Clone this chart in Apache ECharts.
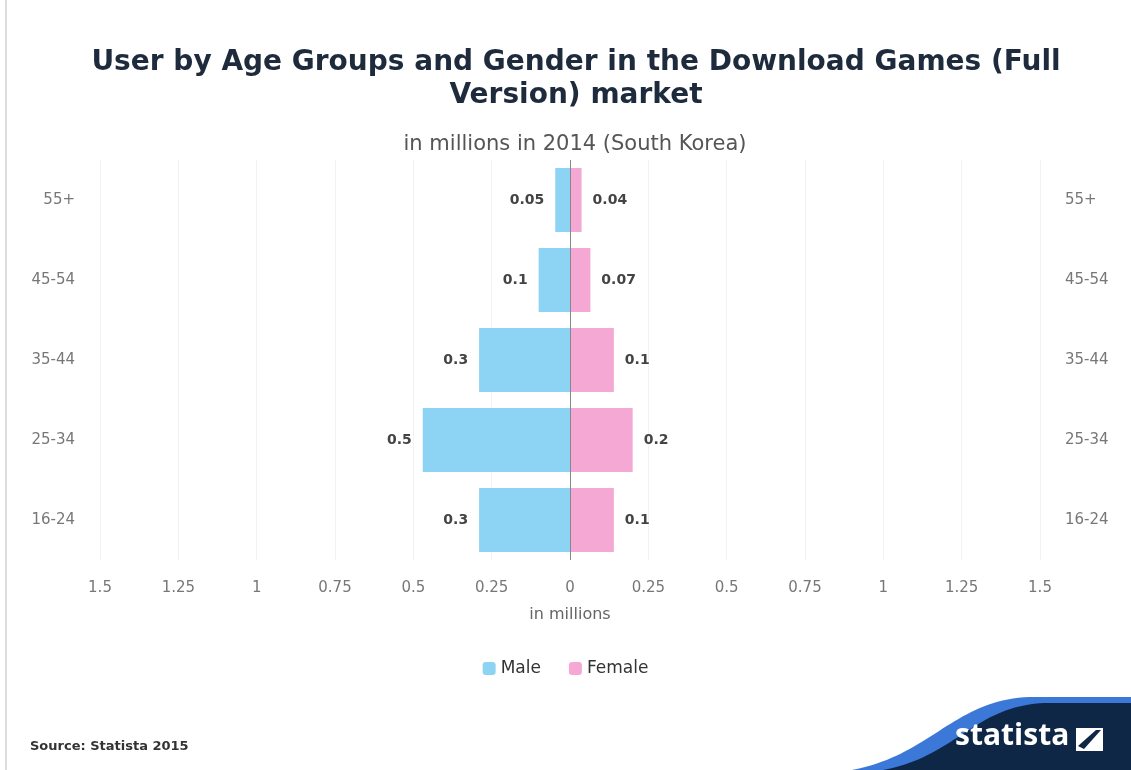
<!DOCTYPE html>
<html><head><meta charset="utf-8">
<script src="https://cdn.jsdelivr.net/npm/echarts@6/dist/echarts.min.js"></script>
<style>html,body{margin:0;padding:0;background:#fff}#c{width:1131px;height:770px}</style>
</head><body><div id="c"></div>
<script>
const categories = ['16-24', '25-34', '35-44', '45-54', '55+'];
const maleValues = [0.29, 0.47, 0.29, 0.1, 0.047];
const femaleValues = [0.14, 0.2, 0.14, 0.065, 0.037];

function fmtVal(v) {
  v = Math.abs(v);
  return v < 0.095 ? v.toFixed(2) : String(Math.round(v * 10) / 10);
}
// decorative wave (logo background) as polygon points along a cubic bezier
function wave(x0, y0, c1x, c1y, c2x, c2y, x1, y1) {
  const pts = [];
  for (let i = 0; i <= 40; i++) {
    const t = i / 40, u = 1 - t;
    pts.push([u*u*u*x0 + 3*u*u*t*c1x + 3*u*t*t*c2x + t*t*t*x1,
              u*u*u*y0 + 3*u*u*t*c1y + 3*u*t*t*c2y + t*t*t*y1]);
  }
  pts.push([1131, y1], [1131, 770]);
  return pts;
}
const FONT = 'DejaVu Sans';
const chart = echarts.init(document.getElementById('c'));
chart.setOption({
  animation: false,
  backgroundColor: '#fff',
  title: [{
    text: 'User by Age Groups and Gender in the Download Games (Full\nVersion) market',
    left: 571, top: 41, textAlign: 'center',
    textStyle: {fontFamily: FONT, fontWeight: 'bold', fontSize: 28, color: '#1d2b3d', lineHeight: 33}
  }, {
    text: 'in millions in 2014 (South Korea)',
    left: 570, top: 129, textAlign: 'center',
    textStyle: {fontFamily: FONT, fontWeight: 'normal', fontSize: 21, color: '#555'}
  }],
  legend: {
    data: ['Male', 'Female'], top: 655, left: 'center',
    itemWidth: 13, itemHeight: 13, itemGap: 28,
    icon: 'roundRect',
    textStyle: {fontFamily: FONT, fontSize: 17, color: '#333'}
  },
  grid: {left: 100, right: 91, top: 160, bottom: 210},
  xAxis: {
    type: 'value', min: -1.5, max: 1.5, interval: 0.25,
    name: 'in millions', nameLocation: 'middle', nameGap: 47,
    nameTextStyle: {fontFamily: FONT, fontSize: 16, color: '#666'},
    axisLine: {show: false}, axisTick: {show: false},
    axisLabel: {fontFamily: FONT, fontSize: 15, color: '#777', margin: 21,
      formatter: v => String(Math.abs(Math.round(v * 100) / 100))},
    splitLine: {show: true, lineStyle: {color: '#f2f2f2', width: 1}}
  },
  yAxis: [{
    type: 'category', data: categories, position: 'left',
    axisLine: {show: false}, axisTick: {show: false},
    axisLabel: {fontFamily: FONT, fontSize: 15, color: '#777', margin: 25}
  }, {
    type: 'category', data: categories, position: 'right',
    axisLine: {show: false}, axisTick: {show: false},
    axisLabel: {fontFamily: FONT, fontSize: 15, color: '#777', margin: 25, align: 'left'}
  }],
  series: [{
    name: 'Male', type: 'bar', stack: 'p', barWidth: '80%',
    data: maleValues.map(v => -v),
    itemStyle: {color: '#8dd3f4'},
    label: {show: true, position: 'left', distance: 11, formatter: p => fmtVal(p.value),
      fontFamily: FONT, fontWeight: 'bold', fontSize: 14, color: '#444'},
    markLine: {silent: true, symbol: 'none', label: {show: false},
      lineStyle: {color: '#888', width: 1, type: 'solid'}, data: [{xAxis: 0}]}
  }, {
    name: 'Female', type: 'bar', stack: 'p', barWidth: '80%',
    data: femaleValues,
    itemStyle: {color: '#f5a8d4'},
    label: {show: true, position: 'right', distance: 11, formatter: p => fmtVal(p.value),
      fontFamily: FONT, fontWeight: 'bold', fontSize: 14, color: '#444'}
  }],
  graphic: [
    {type: 'rect', left: 5, top: 0, shape: {width: 2, height: 770}, style: {fill: '#ddd'}},
    {type: 'text', left: 30, top: 740, style: {text: 'Source: Statista 2015', fontFamily: FONT, fontWeight: 'bold', fontSize: 13, fill: '#333'}},
    {type: 'polygon', shape: {points: wave(840, 772, 930, 760, 950, 700, 1030, 697)}, style: {fill: '#3b78d8'}},
    {type: 'polygon', shape: {points: wave(870, 772, 955, 762, 970, 706, 1045, 703)}, style: {fill: '#0f2747'}},
    {type: 'text', left: 955, top: 721, style: {text: 'statista', fontFamily: 'Open Sans', fontWeight: 'bold', fontSize: 30, fill: '#fff'}},
    {type: 'polygon', shape: {points: [[1076, 728], [1103, 728], [1103, 751], [1076, 751]]}, style: {fill: '#fff'}},
    {type: 'polygon', shape: {points: [[1078, 746], [1096, 730], [1101, 730], [1084, 749]]}, style: {fill: '#0f2747'}}
  ]
});
</script></body></html>
